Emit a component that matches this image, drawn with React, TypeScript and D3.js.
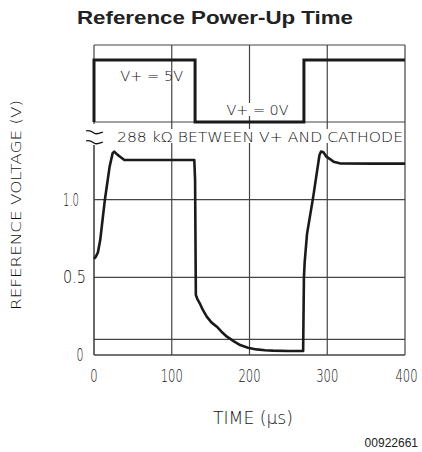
import React from 'react';
import * as d3 from 'd3';

// supply step (V+) in upper panel
const supplyTime = [0, 0, 130, 130, 270, 270, 400];
const supplyVolt = [0, 5, 5, 0, 0, 5, 5];

// reference voltage response (time in µs, volts)
const refTime = [0, 2, 5, 8, 14, 20, 24, 26, 30, 34, 39, 80, 129, 130, 131, 133, 136, 140, 145, 151, 158, 164, 171, 180, 188, 198, 209, 220, 230, 250, 269, 270, 271, 274, 282, 290, 292, 295, 299, 304, 308, 316, 360, 400];
const refVolt = [0.62, 0.63, 0.66, 0.74, 1.0, 1.21, 1.30, 1.31, 1.29, 1.275, 1.256, 1.256, 1.256, 1.13, 0.386, 0.36, 0.333, 0.29, 0.247, 0.21, 0.182, 0.15, 0.118, 0.088, 0.064, 0.047, 0.036, 0.031, 0.028, 0.026, 0.026, 0.5, 0.6, 0.78, 1.02, 1.288, 1.31, 1.305, 1.277, 1.26, 1.245, 1.234, 1.232, 1.232];

const xTicks = [0, 100, 200, 300, 400];
const yTicks = [0, 0.5, 1.0];
const yGrid = [0.1, 0.5, 1.0];
const yTickLabels = ['0', '0.5', '1.0'];

const plotFont = "'DejaVu Sans', sans-serif";
const ink = '#111';
const gridInk = '#444';

export default function App() {
  const W = 422;
  const H = 452;
  const x = d3.scaleLinear().domain([0, 400]).range([94, 405]);
  const yLow = d3.scaleLinear().domain([0, 1]).range([355, 199.7]);
  const yUp = d3.scaleLinear().domain([0, 5]).range([122, 60]);

  const top = 45;
  const upBottom = yUp(0);
  const bottom = yLow(0);

  const supplyLine = d3
    .line<number>()
    .x((_, i) => x(supplyTime[i]))
    .y((d) => yUp(d));

  const refLine = d3
    .line<number>()
    .x((_, i) => x(refTime[i]))
    .y((d) => yLow(d));

  const bx = x(0);

  return (
    <div style={{ position: 'fixed', left: 0, top: 0, width: W, height: H }}>
      <svg width={W} height={H} style={{ display: 'block', background: '#fff' }}>
        {/* title */}
        <text
          x={215}
          y={24}
          textAnchor="middle"
          fontFamily="'Liberation Sans', Arial, sans-serif"
          fontWeight="bold"
          fontSize={18.5}
          textLength={276}
          lengthAdjust="spacingAndGlyphs"
          fill="#222"
        >
          Reference Power-Up Time
        </text>

        {/* vertical grid lines, full height */}
        {xTicks.slice(1, 4).map((t) => (
          <line key={'vx' + t} x1={x(t)} x2={x(t)} y1={top} y2={bottom} stroke={gridInk} strokeWidth={1.2} />
        ))}

        {/* upper panel frame */}
        <line x1={x(0)} x2={x(400)} y1={top} y2={top} stroke={gridInk} strokeWidth={1.2} />
        <line x1={x(0)} x2={x(400)} y1={upBottom} y2={upBottom} stroke={gridInk} strokeWidth={1.2} />
        <line x1={x(0)} x2={x(0)} y1={top} y2={124} stroke={gridInk} strokeWidth={1.2} />
        <line x1={x(400)} x2={x(400)} y1={top} y2={bottom} stroke={gridInk} strokeWidth={1.2} />

        {/* lower panel grid and frame */}
        {yGrid.map((v) => (
          <line key={'hy' + v} x1={x(0)} x2={x(400)} y1={yLow(v)} y2={yLow(v)} stroke={gridInk} strokeWidth={1.2} />
        ))}
        <line x1={x(0)} x2={x(400)} y1={bottom} y2={bottom} stroke={gridInk} strokeWidth={1.6} />
        <line x1={x(0)} x2={x(0)} y1={145} y2={bottom} stroke={gridInk} strokeWidth={1.6} />

        {/* axis break symbol */}
        <path
          d={`M${bx - 8},131 C${bx - 5},130 ${bx - 3},131 ${bx},133 C${bx + 3},135 ${bx + 6},133 ${bx + 9},132`}
          fill="none"
          stroke={ink}
          strokeWidth={1.3}
        />
        <path
          d={`M${bx - 8},141 C${bx - 5},140 ${bx - 3},141 ${bx},143 C${bx + 3},145 ${bx + 6},143 ${bx + 9},142`}
          fill="none"
          stroke={ink}
          strokeWidth={1.3}
        />

        {/* annotations */}
        <g fontFamily={plotFont} fontWeight={200} fill={ink}>
          <rect x={111} y={129} width={290} height={14} fill="#fff" />
          <text x={117} y={142} fontSize={14} textLength={286} lengthAdjust="spacingAndGlyphs">
            288 kΩ BETWEEN V+ AND CATHODE
          </text>
          <text x={151.7} y={81} fontSize={14} textAnchor="middle" textLength={63} lengthAdjust="spacingAndGlyphs">
            V+ = 5V
          </text>
          <rect x={226} y={103} width={63} height={13} fill="#fff" />
          <text x={257.5} y={115} fontSize={14} textAnchor="middle" textLength={62} lengthAdjust="spacingAndGlyphs">
            V+ = 0V
          </text>
        </g>

        {/* supply square wave */}
        <path d={supplyLine(supplyVolt) || ''} fill="none" stroke="#1a1a1a" strokeWidth={3} strokeLinejoin="miter" />

        {/* reference voltage trace */}
        <path d={refLine(refVolt) || ''} fill="none" stroke="#1a1a1a" strokeWidth={2.6} strokeLinejoin="round" />

        {/* tick labels */}
        <g fontFamily={plotFont} fontWeight={200} fontSize={17} fill={ink}>
          {xTicks.map((t) => (
            <text
              key={'xt' + t}
              transform={`translate(${x(t) + (t === 400 ? 1.5 : 0)},382) scale(0.68,1)`}
              textAnchor="middle"
            >
              {t}
            </text>
          ))}
          {yTicks.map((v, i) => (
            <text
              key={'yt' + v}
              x={i === 0 ? 80 : 63}
              y={yLow(v) + 6}
              textAnchor={i === 0 ? 'middle' : 'start'}
              textLength={i === 0 ? 7 : i === 1 ? 23 : 16}
              lengthAdjust="spacingAndGlyphs"
            >
              {yTickLabels[i]}
            </text>
          ))}
        </g>

        {/* axis titles */}
        <text
          x={253}
          y={424}
          textAnchor="middle"
          fontFamily={plotFont}
          fontWeight={200}
          fontSize={17}
          textLength={80}
          lengthAdjust="spacingAndGlyphs"
          fill={ink}
        >
          TIME (μs)
        </text>
        <text
          transform="translate(21,205) rotate(-90)"
          textAnchor="middle"
          fontFamily={plotFont}
          fontWeight={200}
          fontSize={14}
          textLength={210}
          lengthAdjust="spacingAndGlyphs"
          fill={ink}
        >
          REFERENCE VOLTAGE (V)
        </text>

        {/* figure number */}
        <text x={418} y={447} textAnchor="end" fontFamily="'Liberation Sans', Arial, sans-serif" fontSize={12} fill="#222">
          00922661
        </text>
      </svg>
    </div>
  );
}
